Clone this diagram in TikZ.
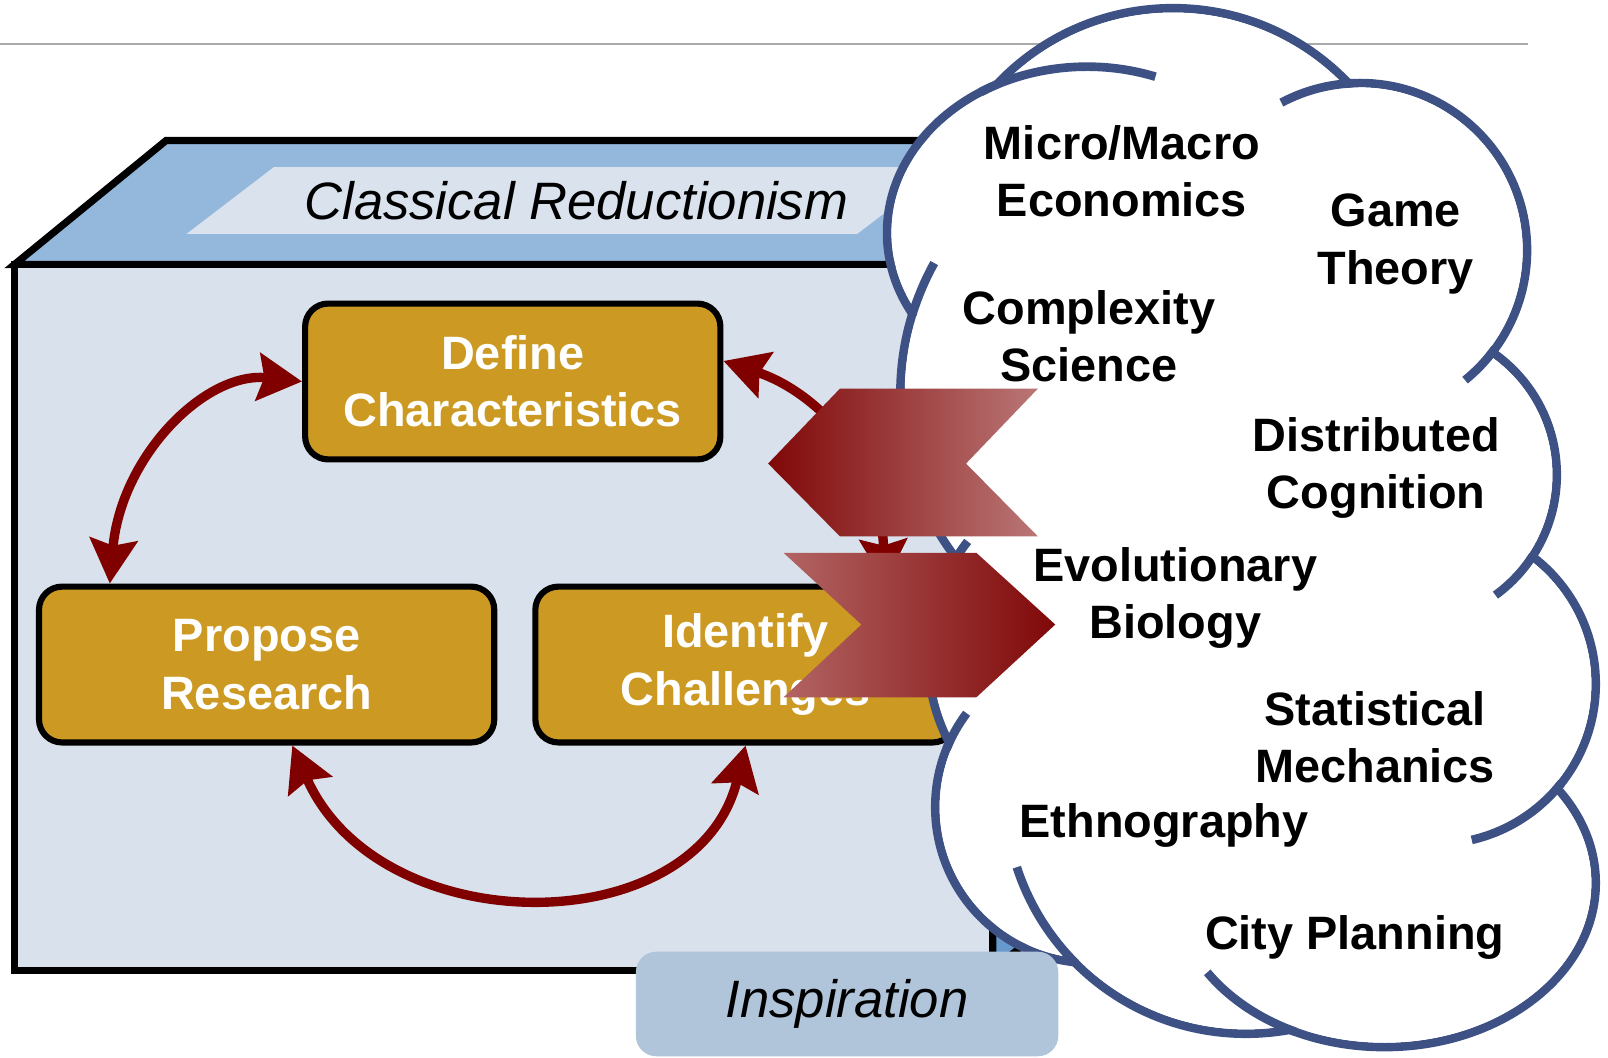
\documentclass[tikz,border=0pt]{standalone}
\usepackage{fontspec}
\setmainfont{Liberation Sans}
\usetikzlibrary{arrows.meta,calc}
\tikzset{
  box-edge/.style={draw=black, line width=4pt},
  step-box/.style={
    rectangle, rounded corners=0.45cm,
    fill=stepgold, draw=black, line width=3.4pt,
    minimum height=3.04cm, text=white, align=center,
    font=\fontsize{26pt}{31.8pt}\selectfont\bfseries
  },
  loop-arrow/.style={
    draw=loopred, line width=5.2pt,
    {Stealth[length=0.86cm,width=0.92cm,inset=0.12cm]}-{Stealth[length=0.86cm,width=0.92cm,inset=0.12cm]}
  },
  cloud-line/.style={draw=cloudblue, line width=4.8pt},
  cloud-text/.style={align=center, font=\fontsize{26pt}{31.8pt}\selectfont\bfseries},
  tag-text/.style={font=\fontsize{29.2pt}{35pt}\selectfont\itshape}
}
\definecolor{rulegray}{RGB}{170,170,170}
\definecolor{facefront}{RGB}{217,225,236}
\definecolor{facetop}{RGB}{148,184,220}
\definecolor{faceside}{RGB}{102,153,204}
\definecolor{labelpale}{RGB}{217,226,237}
\definecolor{stepgold}{RGB}{204,154,34}
\definecolor{loopred}{RGB}{128,0,0}
\definecolor{cloudblue}{RGB}{61,81,133}
\definecolor{inspireblue}{RGB}{176,196,218}
\definecolor{chevdark}{RGB}{128,8,8}
\definecolor{chevlight}{RGB}{186,118,118}
\definecolor{chevpale}{RGB}{178,100,100}
% cx, cy, x radius, y radius, start angle, end angle
\newcommand{\cloudtail}[6]{
  \draw[cloud-line] (#1,#2) ++(#5:#3 and #4) arc[start angle=#5, end angle=#6, x radius=#3, y radius=#4];
}
\def\cloudbumps{1144/244/236/236, 1060/227/195/162, 1326/244/163/163,
  1141/384/263/263, 1373/463/145/145, 1400/667/156/156, 1350/861/206/160,
  1215/773/235/235, 1064/787/152/152, 1087/640/182/182, 1200/560/250/250}

\begin{document}
\begin{tikzpicture}[x=0.02cm, y=-0.02cm]
  \useasboundingbox (0,0) rectangle (1568,1031);

  % --- Rule ---
  \draw[rulegray, line width=1.1pt] (0,43) -- (1490,43);

  % --- The Box (Classical Reductionism) ---
  \filldraw[fill=faceside, box-edge] (968,258) -- (1116,137) -- (1116,825) -- (968,946) -- cycle;
  \filldraw[fill=facetop, box-edge] (14,258) -- (162,137) -- (1116,137) -- (968,258) -- cycle;
  \filldraw[fill=facefront, box-edge] (14,258) rectangle (968,946);
  \fill[labelpale] (182,228) -- (267,163) -- (921,163) -- (836,228) -- cycle;
  \node[tag-text] (reduction) at (562,196) {Classical Reductionism};

  % --- The Cycle (Steps) ---
  \node[step-box, minimum width=8.1cm] (define) at (500,372) {Define\\Characteristics};
  \node[step-box, minimum width=8.88cm] (propose) at (260,648) {Propose\\Research};
  \node[step-box, minimum width=8.2cm] (identify) at (727,648) {Identify\\Challenges};

  \draw[loop-arrow] (define.west) .. controls (200,362) and (118,445) .. ($(propose.north west)+(72,0)$);
  \draw[loop-arrow] ($(propose.south)+(25,0)$) .. controls (370,920) and (680,920) .. (identify.south);
  \draw[loop-arrow] ($(define.east)+(0,-20)$) .. controls (790,380) and (858,440) .. ($(identify.north east)+(-72,0)$);

  % --- The Cloud (Inspiration) ---
  \foreach \cx/\cy/\rx/\ry in \cloudbumps
    \draw[cloud-line] (\cx,\cy) ellipse [x radius=\rx, y radius=\ry];
  \foreach \cx/\cy/\rx/\ry [evaluate=\rx as \fx using \rx-4.2, evaluate=\ry as \fy using \ry-4.2] in \cloudbumps
    \fill[white] (\cx,\cy) ellipse [x radius=\fx, y radius=\fy];

  % tails of the bumps
  \cloudtail{1060}{227}{195}{162}{-122}{-70}
  \cloudtail{1326}{244}{163}{163}{-93}{-118}
  \cloudtail{1326}{244}{163}{163}{36}{51}
  \cloudtail{1141}{384}{263}{263}{197}{209}
  \cloudtail{1373}{463}{145}{145}{33}{54}
  \cloudtail{1400}{667}{156}{156}{38}{77}
  \cloudtail{1350}{861}{206}{160}{115}{147}
  \cloudtail{1215}{773}{235}{235}{135}{162}
  \cloudtail{1064}{787}{152}{152}{202}{217}
  \cloudtail{1087}{640}{182}{182}{207}{218}

  \node[cloud-text] (economics) at (1094,167) {Micro/Macro\\Economics};
  \node[cloud-text] (game) at (1361,238) {Game\\Theory};
  \node[cloud-text] (complexity) at (1062,328) {Complexity\\Science};
  \node[cloud-text] (cognition) at (1342,456) {Distributed\\Cognition};
  \node[cloud-text] (biology) at (1146,583) {Evolutionary\\Biology};
  \node[cloud-text] (mechanics) at (1341,719) {Statistical\\Mechanics};
  \node[cloud-text] (ethnography) at (1135,805) {Ethnography};
  \node[cloud-text] (planning) at (1321,914) {City Planning};

  % --- Chevrons (links) ---
  \shade[left color=chevdark, right color=chevlight] (749,452) -- (819,379) -- (1012,379) -- (942,452) -- (1012,523) -- (819,523) -- cycle;
  \shade[left color=chevpale, right color=chevdark] (764,539) -- (952,539) -- (1029,609) -- (952,680) -- (764,680) -- (840,609) -- cycle;

  % --- Label ---
  \node[fill=inspireblue, rounded corners=0.4cm, minimum width=8.24cm, minimum height=2.04cm, tag-text] (inspiration) at (826,979) {Inspiration};
\end{tikzpicture}
\end{document}
